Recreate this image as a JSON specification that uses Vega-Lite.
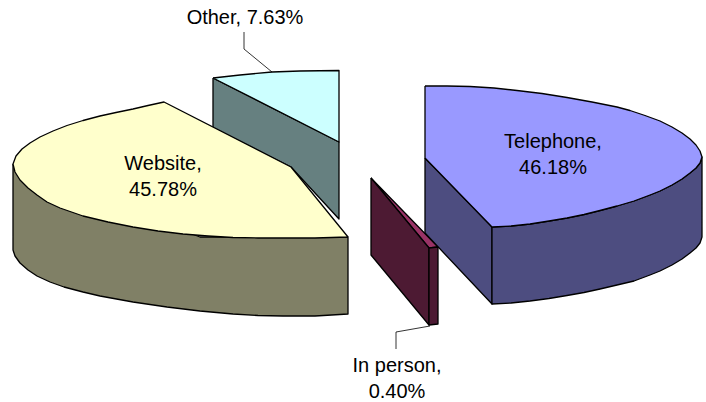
{"$schema":"https://vega.github.io/schema/vega-lite/v6.json","width":706,"height":402,"padding":0,"autosize":{"type":"none"},"background":"white","view":{"stroke":null},
"datasets":{"faces":[
{"f":"Other side","o":1,"x":213,"y":78},{"f":"Other side","o":2,"x":339,"y":142},{"f":"Other side","o":3,"x":339,"y":219},{"f":"Other side","o":4,"x":291,"y":167},{"f":"Other side","o":5,"x":213,"y":128},{"f":"Other side","o":6,"x":213,"y":78},
{"f":"Other top","o":1,"x":213,"y":78},{"f":"Other top","o":2,"x":240,"y":75},{"f":"Other top","o":3,"x":272,"y":72},{"f":"Other top","o":4,"x":300,"y":71},{"f":"Other top","o":5,"x":339,"y":70.5},{"f":"Other top","o":6,"x":339,"y":142},{"f":"Other top","o":7,"x":213,"y":78},
{"f":"In person top","o":1,"x":371,"y":178},{"f":"In person top","o":2,"x":438,"y":247},{"f":"In person top","o":3,"x":429,"y":248},{"f":"In person top","o":4,"x":371,"y":178},
{"f":"In person side","o":1,"x":371,"y":178},{"f":"In person side","o":2,"x":429,"y":248},{"f":"In person side","o":3,"x":429,"y":325},{"f":"In person side","o":4,"x":371,"y":255},{"f":"In person side","o":5,"x":371,"y":178},
{"f":"In person edge","o":1,"x":429,"y":248},{"f":"In person edge","o":2,"x":438,"y":247},{"f":"In person edge","o":3,"x":438,"y":324},{"f":"In person edge","o":4,"x":429,"y":325},{"f":"In person edge","o":5,"x":429,"y":248},
{"f":"Telephone cut","o":1,"x":425,"y":158},{"f":"Telephone cut","o":2,"x":492,"y":227},{"f":"Telephone cut","o":3,"x":492,"y":304},{"f":"Telephone cut","o":4,"x":425,"y":233},{"f":"Telephone cut","o":5,"x":425,"y":158},
{"f":"Telephone side","o":1,"x":492,"y":227},{"f":"Telephone side","o":2,"x":511,"y":226},{"f":"Telephone side","o":3,"x":530,"y":224},{"f":"Telephone side","o":4,"x":549,"y":221},{"f":"Telephone side","o":5,"x":567,"y":218},{"f":"Telephone side","o":6,"x":584,"y":214.5},{"f":"Telephone side","o":7,"x":600,"y":210.5},{"f":"Telephone side","o":8,"x":617,"y":206},{"f":"Telephone side","o":9,"x":634,"y":201},{"f":"Telephone side","o":10,"x":650,"y":195},{"f":"Telephone side","o":11,"x":660,"y":191},{"f":"Telephone side","o":12,"x":672,"y":185},{"f":"Telephone side","o":13,"x":682,"y":179},{"f":"Telephone side","o":14,"x":690,"y":173},{"f":"Telephone side","o":15,"x":696,"y":168},{"f":"Telephone side","o":16,"x":700,"y":163},{"f":"Telephone side","o":17,"x":702,"y":157},{"f":"Telephone side","o":18,"x":702,"y":237},{"f":"Telephone side","o":19,"x":700,"y":243},{"f":"Telephone side","o":20,"x":696,"y":248},{"f":"Telephone side","o":21,"x":690,"y":253},{"f":"Telephone side","o":22,"x":682,"y":259},{"f":"Telephone side","o":23,"x":672,"y":265},{"f":"Telephone side","o":24,"x":660,"y":271},{"f":"Telephone side","o":25,"x":650,"y":275},{"f":"Telephone side","o":26,"x":634,"y":281},{"f":"Telephone side","o":27,"x":617,"y":285},{"f":"Telephone side","o":28,"x":600,"y":289},{"f":"Telephone side","o":29,"x":584,"y":292.5},{"f":"Telephone side","o":30,"x":567,"y":295.5},{"f":"Telephone side","o":31,"x":549,"y":298.5},{"f":"Telephone side","o":32,"x":530,"y":301},{"f":"Telephone side","o":33,"x":511,"y":303},{"f":"Telephone side","o":34,"x":492,"y":304},{"f":"Telephone side","o":35,"x":492,"y":227},
{"f":"Telephone top","o":1,"x":425,"y":86},{"f":"Telephone top","o":2,"x":447,"y":86},{"f":"Telephone top","o":3,"x":470,"y":86.5},{"f":"Telephone top","o":4,"x":494,"y":88},{"f":"Telephone top","o":5,"x":517,"y":90.5},{"f":"Telephone top","o":6,"x":542,"y":93.5},{"f":"Telephone top","o":7,"x":567,"y":97.5},{"f":"Telephone top","o":8,"x":592,"y":102},{"f":"Telephone top","o":9,"x":617,"y":107},{"f":"Telephone top","o":10,"x":630,"y":110.5},{"f":"Telephone top","o":11,"x":645,"y":115.5},{"f":"Telephone top","o":12,"x":660,"y":121},{"f":"Telephone top","o":13,"x":672,"y":127},{"f":"Telephone top","o":14,"x":682,"y":133},{"f":"Telephone top","o":15,"x":690,"y":139},{"f":"Telephone top","o":16,"x":696,"y":145},{"f":"Telephone top","o":17,"x":700,"y":151},{"f":"Telephone top","o":18,"x":702,"y":157},{"f":"Telephone top","o":19,"x":700,"y":163},{"f":"Telephone top","o":20,"x":696,"y":168},{"f":"Telephone top","o":21,"x":690,"y":173},{"f":"Telephone top","o":22,"x":682,"y":179},{"f":"Telephone top","o":23,"x":672,"y":185},{"f":"Telephone top","o":24,"x":660,"y":191},{"f":"Telephone top","o":25,"x":650,"y":195},{"f":"Telephone top","o":26,"x":634,"y":201},{"f":"Telephone top","o":27,"x":617,"y":206},{"f":"Telephone top","o":28,"x":600,"y":210.5},{"f":"Telephone top","o":29,"x":584,"y":214.5},{"f":"Telephone top","o":30,"x":567,"y":218},{"f":"Telephone top","o":31,"x":549,"y":221},{"f":"Telephone top","o":32,"x":530,"y":224},{"f":"Telephone top","o":33,"x":511,"y":226},{"f":"Telephone top","o":34,"x":492,"y":227},{"f":"Telephone top","o":35,"x":425,"y":158},{"f":"Telephone top","o":36,"x":425,"y":86},
{"f":"Website side","o":1,"x":13,"y":164},{"f":"Website side","o":2,"x":13,"y":250},{"f":"Website side","o":3,"x":15,"y":256},{"f":"Website side","o":4,"x":20,"y":263},{"f":"Website side","o":5,"x":28,"y":270},{"f":"Website side","o":6,"x":37,"y":276},{"f":"Website side","o":7,"x":50,"y":282},{"f":"Website side","o":8,"x":64,"y":287},{"f":"Website side","o":9,"x":83,"y":292},{"f":"Website side","o":10,"x":100,"y":296},{"f":"Website side","o":11,"x":133,"y":302},{"f":"Website side","o":12,"x":167,"y":307},{"f":"Website side","o":13,"x":200,"y":311},{"f":"Website side","o":14,"x":233,"y":314},{"f":"Website side","o":15,"x":258,"y":315.5},{"f":"Website side","o":16,"x":283,"y":316},{"f":"Website side","o":17,"x":315,"y":316},{"f":"Website side","o":18,"x":348,"y":314},{"f":"Website side","o":19,"x":348,"y":237},{"f":"Website side","o":20,"x":200,"y":237},{"f":"Website side","o":21,"x":13,"y":164},
{"f":"Website top","o":1,"x":348,"y":237},{"f":"Website top","o":2,"x":291,"y":167},{"f":"Website top","o":3,"x":164,"y":102},{"f":"Website top","o":4,"x":148,"y":105.5},{"f":"Website top","o":5,"x":133,"y":109},{"f":"Website top","o":6,"x":116,"y":112.5},{"f":"Website top","o":7,"x":100,"y":116},{"f":"Website top","o":8,"x":83,"y":120.5},{"f":"Website top","o":9,"x":67,"y":125.5},{"f":"Website top","o":10,"x":53,"y":131},{"f":"Website top","o":11,"x":40,"y":137},{"f":"Website top","o":12,"x":30,"y":143},{"f":"Website top","o":13,"x":22,"y":149},{"f":"Website top","o":14,"x":16,"y":156},{"f":"Website top","o":15,"x":13,"y":164},{"f":"Website top","o":16,"x":15,"y":172},{"f":"Website top","o":17,"x":20,"y":180},{"f":"Website top","o":18,"x":28,"y":188},{"f":"Website top","o":19,"x":37,"y":195},{"f":"Website top","o":20,"x":47,"y":202},{"f":"Website top","o":21,"x":60,"y":208},{"f":"Website top","o":22,"x":83,"y":216},{"f":"Website top","o":23,"x":108,"y":222},{"f":"Website top","o":24,"x":133,"y":227},{"f":"Website top","o":25,"x":158,"y":231},{"f":"Website top","o":26,"x":183,"y":234},{"f":"Website top","o":27,"x":208,"y":236},{"f":"Website top","o":28,"x":233,"y":237.5},{"f":"Website top","o":29,"x":258,"y":238},{"f":"Website top","o":30,"x":283,"y":238},{"f":"Website top","o":31,"x":315,"y":238},{"f":"Website top","o":32,"x":348,"y":237}
],
"leaders":[
{"s":"Other","o":1,"x":244,"y":32},{"s":"Other","o":2,"x":244,"y":49},{"s":"Other","o":3,"x":272,"y":72},
{"s":"In person","o":1,"x":396,"y":349},{"s":"In person","o":2,"x":396,"y":332},{"s":"In person","o":3,"x":430,"y":326}
],
"labels":[
{"t":"Website,\n45.78%","x":163,"y":163.5},{"t":"Telephone,\n46.18%","x":553,"y":142},{"t":"Other, 7.63%","x":245,"y":18},{"t":"In person,\n0.40%","x":397,"y":366}
]},
"layer":[
{"data":{"name":"faces"},"mark":{"type":"line","stroke":"black","strokeWidth":1.3,"strokeJoin":"round"},
"encoding":{"x":{"field":"x","type":"quantitative","scale":{"domain":[0,706]},"axis":null},"y":{"field":"y","type":"quantitative","scale":{"domain":[402,0]},"axis":null},"order":{"field":"o","type":"quantitative"},"detail":{"field":"f"},
"fill":{"field":"f","type":"nominal","legend":null,"scale":{"domain":["Other side","Other top","In person top","In person side","In person edge","Telephone cut","Telephone side","Telephone top","Website side","Website top"],"range":["#668080","#CCFFFF","#993366","#4D1A33","#4D1A33","#4D4D80","#4D4D80","#9999FF","#808066","#FFFFCC"]}}}},
{"data":{"name":"leaders"},"mark":{"type":"line","stroke":"black","strokeWidth":0.8},
"encoding":{"x":{"field":"x","type":"quantitative","scale":{"domain":[0,706]},"axis":null},"y":{"field":"y","type":"quantitative","scale":{"domain":[402,0]},"axis":null},"order":{"field":"o","type":"quantitative"},"detail":{"field":"s"}}},
{"data":{"name":"labels"},"mark":{"type":"text","font":"Liberation Sans","fontSize":20,"lineBreak":"\n","lineHeight":26,"align":"center","baseline":"middle","color":"black"},
"encoding":{"x":{"field":"x","type":"quantitative","scale":{"domain":[0,706]},"axis":null},"y":{"field":"y","type":"quantitative","scale":{"domain":[402,0]},"axis":null},"text":{"field":"t"}}}
]}
